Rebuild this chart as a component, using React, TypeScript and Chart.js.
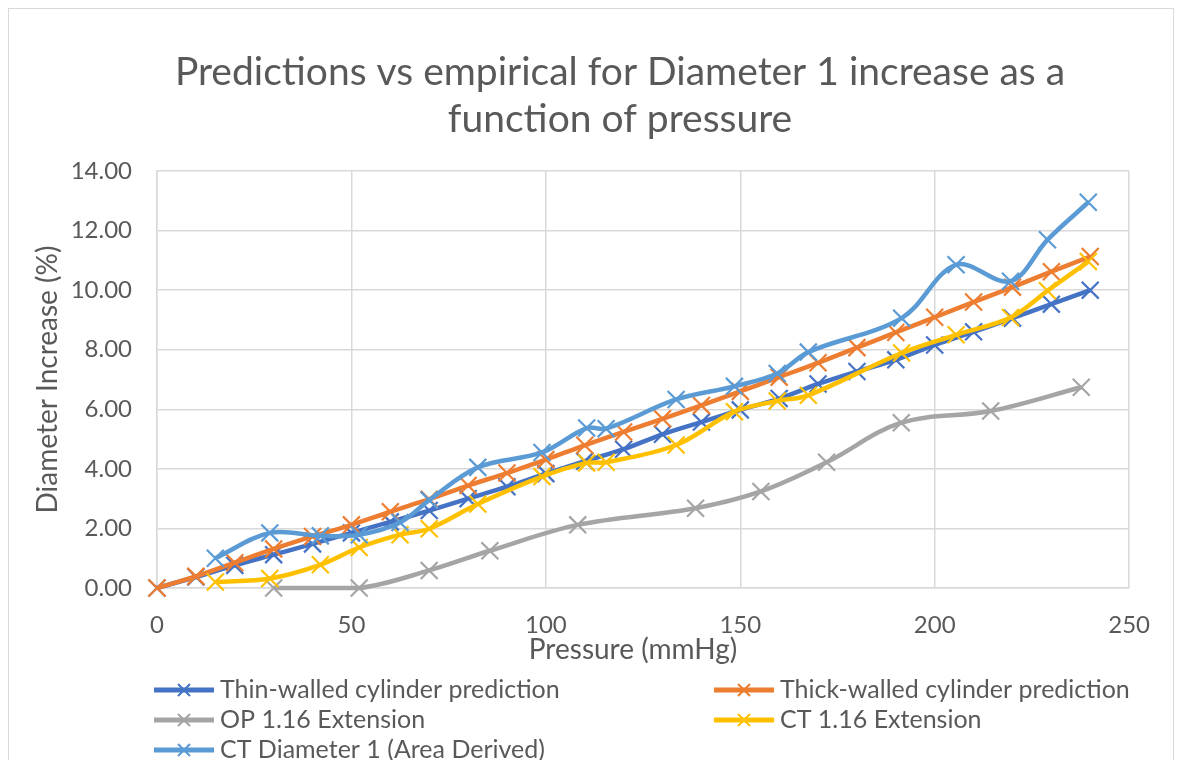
import React, { useEffect, useRef } from "react";
import { Chart, registerables } from "chart.js";

Chart.register(...registerables);

const FONT = "Lato, 'Open Sans', sans-serif";
const TEXT_COLOR = "#595959";
const GRID_COLOR = "#d9d9d9";

const titleLines = ["Predictions vs empirical for Diameter 1 increase as a", "function of pressure"];
const xAxisTitle = "Pressure (mmHg)";
const yAxisTitle = "Diameter Increase (%)";
const xTicks = [0, 50, 100, 150, 200, 250];
const yTicks = [0, 2, 4, 6, 8, 10, 12, 14];

const seriesLabels = [
  "Thin-walled cylinder prediction",
  "Thick-walled cylinder prediction",
  "OP 1.16 Extension",
  "CT 1.16 Extension",
  "CT Diameter 1 (Area Derived)",
];
const seriesColors = ["#4472C4", "#ED7D31", "#A5A5A5", "#FFC000", "#5B9BD5"];

// Model predictions (pressure in mmHg)
const modelPressure = [0, 10, 20, 30, 40, 50, 60, 70, 80, 90, 100, 110, 120, 130, 140, 150, 160, 170, 180, 190, 200, 210, 220, 230, 240];
const thinWalled = [0, 0.37, 0.76, 1.12, 1.48, 1.85, 2.22, 2.6, 3.0, 3.4, 3.84, 4.26, 4.66, 5.16, 5.57, 5.98, 6.36, 6.85, 7.27, 7.66, 8.16, 8.6, 9.06, 9.53, 10.0];
const thickWalled = [0, 0.39, 0.85, 1.31, 1.73, 2.12, 2.56, 2.98, 3.44, 3.86, 4.31, 4.79, 5.24, 5.68, 6.13, 6.6, 7.08, 7.56, 8.07, 8.58, 9.09, 9.6, 10.1, 10.62, 11.13];

// OP measurements
const opPressure = [30, 52, 70, 85.6, 108.2, 138.5, 155.3, 172.2, 191.4, 214.4, 237.7];
const opExtension = [0, 0, 0.59, 1.25, 2.12, 2.68, 3.24, 4.22, 5.55, 5.94, 6.74];

// CT measurements
const ctPressure = [15, 29, 42, 52, 62.5, 70, 82.5, 99, 110.5, 115.5, 133.5, 148.5, 159.5, 167.5, 191.5, 205.5, 219.5, 229, 239.5];
const ctExtension = [0.2, 0.32, 0.78, 1.36, 1.79, 1.99, 2.82, 3.74, 4.2, 4.22, 4.8, 5.92, 6.28, 6.47, 7.89, 8.5, 9.08, 9.98, 10.96];
const ctDiameter = [1.0, 1.85, 1.75, 1.79, 2.2, 2.95, 4.05, 4.55, 5.37, 5.35, 6.33, 6.77, 7.2, 7.92, 9.06, 10.85, 10.3, 11.69, 12.95];

const seriesX = [modelPressure, modelPressure, opPressure, ctPressure, ctPressure];
const seriesY = [thinWalled, thickWalled, opExtension, ctExtension, ctDiameter];

// Draws the two-line title, the x-axis title and the two-column legend.
const textPlugin = {
  id: "excelText",
  afterDraw(chart: any) {
    const ctx = chart.ctx;
    ctx.save();
    ctx.fillStyle = TEXT_COLOR;
    ctx.textBaseline = "middle";

    // Title
    ctx.textAlign = "center";
    ctx.font = `39px ${FONT}`;
    titleLines.forEach((line, i) => ctx.fillText(line, 611, 63 + i * 47));

    // X axis title
    ctx.font = `28px ${FONT}`;
    ctx.fillText(xAxisTitle, 624, 641);

    // Legend
    const cols = [145, 705];
    const rows = [681, 711, 741];
    ctx.textAlign = "left";
    ctx.font = `25px ${FONT}`;
    chart.data.datasets.forEach((ds: any, i: number) => {
      const x = cols[i % 2];
      const y = rows[Math.floor(i / 2)];
      ctx.strokeStyle = ds.borderColor;
      ctx.lineWidth = 5;
      ctx.beginPath();
      ctx.moveTo(x, y);
      ctx.lineTo(x + 60, y);
      ctx.stroke();
      const cx = x + 30;
      const h = 6;
      ctx.lineWidth = 2;
      ctx.beginPath();
      ctx.moveTo(cx - h, y - h);
      ctx.lineTo(cx + h, y + h);
      ctx.moveTo(cx + h, y - h);
      ctx.lineTo(cx - h, y + h);
      ctx.stroke();
      ctx.fillText(ds.label, x + 66, y);
    });
    ctx.restore();
  },
};

export default function App() {
  const ref = useRef<HTMLCanvasElement | null>(null);

  useEffect(() => {
    document.body.style.overflow = "hidden";
    const canvas = ref.current;
    if (!canvas) return;
    Chart.defaults.font.family = FONT;
    const datasets = seriesLabels.map((label, i) => ({
      label,
      data: seriesX[i].map((x, j) => ({ x, y: seriesY[i][j] })),
      borderColor: seriesColors[i],
      backgroundColor: seriesColors[i],
      borderWidth: 4.5,
      showLine: true,
      tension: 0.35,
      pointStyle: "crossRot",
      pointRadius: 12,
      pointBorderWidth: 2.2,
      pointBorderColor: seriesColors[i],
      clip: false,
      order: seriesLabels.length - 1 - i,
    }));

    const chart = new Chart(canvas, {
      type: "scatter",
      data: { datasets } as any,
      plugins: [textPlugin],
      options: {
        animation: false,
        responsive: false,
        layout: { padding: { top: 162, left: 0, right: 39, bottom: 91 } },
        plugins: {
          legend: { display: false },
          tooltip: { enabled: false },
          title: { display: false },
        },
        scales: {
          x: {
            type: "linear",
            min: 0,
            max: 250,
            afterBuildTicks: (s: any) => {
              s.ticks = xTicks.map((v) => ({ value: v }));
            },
            afterFit: (s: any) => {
              s.height = 90;
            },
            ticks: {
              color: TEXT_COLOR,
              font: { size: 24, family: FONT },
              padding: 23,
              callback: (v: any) => String(v),
            },
            grid: { color: GRID_COLOR, lineWidth: 1.5, drawTicks: false },
            border: { color: GRID_COLOR, width: 1.5 },
            title: { display: false },
          },
          y: {
            type: "linear",
            min: 0,
            max: 14,
            afterBuildTicks: (s: any) => {
              s.ticks = yTicks.map((v) => ({ value: v }));
            },
            afterFit: (s: any) => {
              s.width = 148;
            },
            ticks: {
              color: TEXT_COLOR,
              font: { size: 24, family: FONT },
              padding: 25,
              callback: (v: any) => Number(v).toFixed(2),
            },
            grid: { color: GRID_COLOR, lineWidth: 1.5, drawTicks: false },
            border: { color: GRID_COLOR, width: 1.5 },
            title: {
              display: true,
              text: yAxisTitle,
              color: TEXT_COLOR,
              font: { size: 28, family: FONT },
              padding: { top: 22.2, bottom: 0 },
            },
          },
        },
      } as any,
    });
    return () => chart.destroy();
  }, []);

  return (
    <div
      style={{
        position: "relative",
        width: 1164,
        height: 790,
        borderTop: `1px solid ${GRID_COLOR}`,
        borderLeft: `1px solid ${GRID_COLOR}`,
        borderRight: `1px solid ${GRID_COLOR}`,
        overflow: "hidden",
        background: "#fff",
      }}
    >
      <canvas ref={ref} width={1164} height={760} style={{ display: "block" }} />
    </div>
  );
}
